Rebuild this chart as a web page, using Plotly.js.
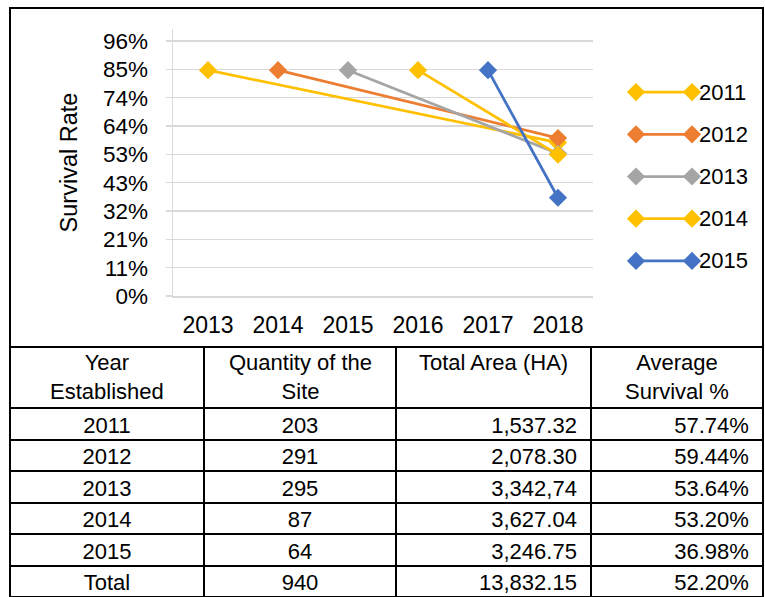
<!DOCTYPE html>
<html>
<head>
<meta charset="utf-8">
<script src="https://cdn.plot.ly/plotly-3.0.1.min.js"></script>
<style>
html,body{margin:0;padding:0;background:#fff;}
#chart{width:765px;height:597px;}
</style>
</head>
<body>
<div id="chart"></div>
<script>
// ---- data ----
const years = ['2013', '2014', '2015', '2016', '2017', '2018'];
const seriesNames = ['2011', '2012', '2013', '2014', '2015'];
const startYears = ['2013', '2014', '2015', '2016', '2017'];
const startValues = [85, 85, 85, 85, 85];
const endYear = '2018';
const endValues = [57.74, 59.44, 53.64, 53.20, 36.98];
const seriesColors = ['#FFC000', '#ED7D31', '#A5A5A5', '#FFC000', '#4472C4'];
const yTickVals = [0, 10.667, 21.333, 32, 42.667, 53.333, 64, 74.667, 85.333, 96];
const yTickText = ['0%', '11%', '21%', '32%', '43%', '53%', '64%', '74%', '85%', '96%'];

const tableHeader = ['Year<br>Established', 'Quantity of the<br>Site', 'Total Area (HA)', 'Average<br>Survival %'];
const yearEstablished = ['2011', '2012', '2013', '2014', '2015', 'Total'];
const quantity = ['203', '291', '295', '87', '64', '940'];
const totalArea = ['1,537.32', '2,078.30', '3,342,74', '3,627.04', '3,246.75', '13,832.15'];
const avgSurvival = ['57.74%', '59.44%', '53.64%', '53.20%', '36.98%', '52.20%'];

// ---- layout helpers ----
const W = 765, H = 597;
const px = v => v / W;
const py = v => (H - v) / H;
const chartFont = 'Liberation Sans, Arial, sans-serif';
const tableFont = 'Liberation Sans, Arial, sans-serif';
const colEdges = [10, 204, 396, 591, 763];

const traces = [];
seriesNames.forEach((name, i) => {
  traces.push({
    type: 'scatter', mode: 'lines+markers', name: name,
    x: [startYears[i], endYear], y: [startValues[i], endValues[i]],
    xaxis: 'x', yaxis: 'y',
    line: {color: seriesColors[i], width: 2.75},
    marker: {symbol: 'diamond', size: 14, color: seriesColors[i]},
    cliponaxis: false, showlegend: false
  });
});
// custom legend glyphs (line with a marker at each end)
seriesNames.forEach((name, i) => {
  traces.push({
    type: 'scatter', mode: 'lines+markers', name: name,
    x: [0, 1], y: [i, i], xaxis: 'x2', yaxis: 'y2',
    line: {color: seriesColors[i], width: 2.75},
    marker: {symbol: 'diamond', size: 14, color: seriesColors[i]},
    cliponaxis: false, showlegend: false, hoverinfo: 'skip'
  });
});
traces.push({
  type: 'table',
  domain: {x: [px(colEdges[0]), px(colEdges[4])], y: [0, py(347)]},
  columnwidth: colEdges.slice(1).map((e, i) => e - colEdges[i]),
  header: {
    values: tableHeader.map(() => ''),
    height: 61,
    font: {family: tableFont, size: 22, color: '#000'},
    line: {color: '#000', width: 2},
    fill: {color: '#fff'}
  },
  cells: {
    values: [yearEstablished, quantity, totalArea, avgSurvival],
    align: ['center', 'center', 'right', 'right'],
    suffix: ['', '', '\u00a0', '\u00a0'],
    height: 31.5,
    font: {family: tableFont, size: 22, color: '#000'},
    line: {color: '#000', width: 2},
    fill: {color: '#fff'}
  }
});

const annotations = seriesNames.map((name, i) => ({
  xref: 'paper', yref: 'y2', x: px(697), y: i, text: name,
  xanchor: 'left', yanchor: 'middle', showarrow: false,
  font: {family: chartFont, size: 22, color: '#000'}
}));
// table header text (centered multi-line)
tableHeader.forEach((txt, i) => {
  annotations.push({
    xref: 'paper', yref: 'paper',
    x: px((colEdges[i] + colEdges[i + 1]) / 2), y: py(348),
    xanchor: 'center', yanchor: 'top', align: 'center', showarrow: false,
    text: txt, font: {family: tableFont, size: 22, color: '#000'}
  });
});

const layout = {
  width: W, height: H,
  margin: {l: 0, r: 0, t: 0, b: 0},
  paper_bgcolor: '#fff', plot_bgcolor: '#fff',
  font: {family: chartFont, color: '#000'},
  showlegend: false,
  xaxis: {
    type: 'category', categoryorder: 'array', categoryarray: years,
    tickvals: years, range: [-0.5, 5.5],
    domain: [px(173), px(593)], anchor: 'y',
    showgrid: false, zeroline: false,
    showline: true, linecolor: '#D9D9D9', linewidth: 1.5,
    ticks: 'outside', ticklen: 8, tickcolor: 'rgba(0,0,0,0)',
    tickfont: {family: chartFont, size: 23, color: '#000'},
    fixedrange: true
  },
  yaxis: {
    range: [0, 100.5], domain: [py(296), py(29)], anchor: 'x',
    tickvals: yTickVals, ticktext: yTickText,
    showgrid: true, gridcolor: '#D9D9D9', gridwidth: 1.5,
    zeroline: false, showline: true, linecolor: '#D9D9D9', linewidth: 1.5,
    ticks: 'outside', ticklen: 6, tickcolor: '#D9D9D9', tickwidth: 1.5,
    ticklabelstandoff: 13,
    tickfont: {family: chartFont, size: 22.5, color: '#000'},
    title: {text: 'Survival Rate', standoff: 18, font: {family: chartFont, size: 23.5, color: '#000'}},
    fixedrange: true
  },
  xaxis2: {domain: [px(636), px(692)], anchor: 'y2', range: [0, 1], visible: false, fixedrange: true},
  yaxis2: {domain: [py(271.5), py(81.5)], anchor: 'x2', range: [4.25, -0.25], visible: false, fixedrange: true},
  shapes: [
    {type: 'rect', xref: 'paper', yref: 'paper', x0: px(10), x1: px(763), y0: py(347), y1: py(8),
     line: {color: '#000', width: 2}, fillcolor: 'rgba(0,0,0,0)', layer: 'above'}
  ],
  annotations: annotations
};

Plotly.newPlot('chart', traces, layout, {displayModeBar: false, staticPlot: true});
</script>
</body>
</html>
